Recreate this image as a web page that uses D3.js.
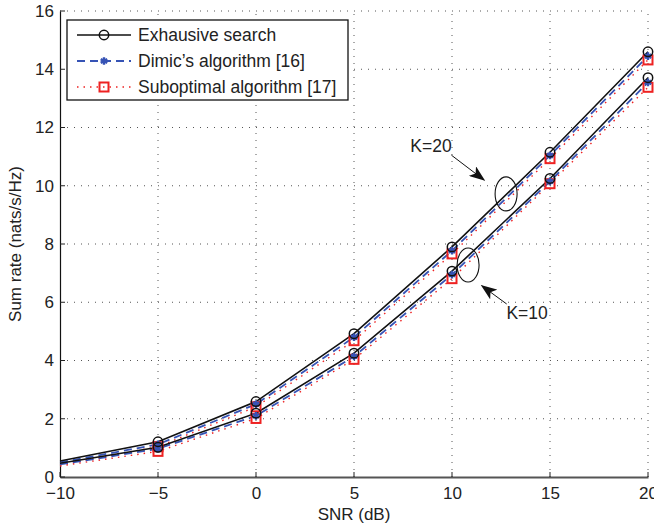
<!DOCTYPE html>
<html>
<head>
<meta charset="utf-8">
<script src="https://cdn.jsdelivr.net/npm/d3@7"></script>
<style>
  html, body { margin: 0; padding: 0; background: #fff; }
  svg { display: block; font-family: "Liberation Sans", Arial, Helvetica, sans-serif; }
</style>
</head>
<body>
<svg id="chart" width="654" height="530"></svg>
<script>
// SNR points (dB)
const snr = [-10, -5, 0, 5, 10, 15, 20];

// Sum rate (nats/s/Hz) for each scheme, K = 20 users and K = 10 users
const exhaustiveK20 = [0.55, 1.21, 2.59, 4.92, 7.90, 11.15, 14.60];
const exhaustiveK10 = [0.47, 1.02, 2.19, 4.25, 7.07, 10.25, 13.71];
const dimicK20      = [0.50, 1.12, 2.50, 4.80, 7.77, 11.04, 14.45];
const dimicK10      = [0.43, 0.97, 2.10, 4.14, 6.95, 10.15, 13.55];
const suboptK20     = [0.42, 1.04, 2.41, 4.68, 7.66, 10.93, 14.32];
const suboptK10     = [0.38, 0.88, 2.01, 4.04, 6.81, 10.07, 13.38];

const xTicks = [-10, -5, 0, 5, 10, 15, 20];
const yTicks = [0, 2, 4, 6, 8, 10, 12, 14, 16];

const legendLabels = ["Exhausive search", "Dimic\u2019s algorithm [16]", "Suboptimal algorithm [17]"];

const svg = d3.select("#chart");
const x = d3.scaleLinear().domain([-10, 20]).range([60, 648]);
const y = d3.scaleLinear().domain([0, 16]).range([477, 11]);

const BLUE = "#3653b5";
const RED = "#ee2222";

// dotted grid
const grid = svg.append("g").attr("stroke", "#555").attr("stroke-width", 1)
  .attr("stroke-dasharray", "1,6");
grid.selectAll("line.v").data(xTicks.slice(1)).join("line")
  .attr("x1", d => x(d)).attr("x2", d => x(d))
  .attr("y1", y(0)).attr("y2", y(16));
grid.selectAll("line.h").data(yTicks.slice(1)).join("line")
  .attr("x1", x(-10)).attr("x2", x(20))
  .attr("y1", d => y(d)).attr("y2", d => y(d));

// axes
const xAxis = d3.axisBottom(x).tickValues(xTicks).tickSize(0).tickPadding(10)
  .tickFormat(d => d < 0 ? "\u2212" + Math.abs(d) : d);
const gx = svg.append("g").attr("transform", `translate(0,${y(0)})`).call(xAxis);
gx.select(".domain").attr("stroke", "#555").attr("stroke-width", 2);
gx.selectAll("text").attr("font-size", 17).attr("fill", "#222")
  .attr("font-family", "Liberation Sans, Arial, sans-serif");

const yAxis = d3.axisLeft(y).tickValues(yTicks).tickSize(0).tickPadding(6);
const gy = svg.append("g").attr("transform", `translate(${x(-10)},0)`).call(yAxis);
gy.select(".domain").attr("stroke", "#111").attr("stroke-width", 1.2);
gy.selectAll("text").attr("font-size", 17).attr("fill", "#222")
  .attr("font-family", "Liberation Sans, Arial, sans-serif");

// inward ticks
svg.append("g").attr("stroke", "#222").attr("stroke-width", 1)
  .selectAll("line").data(yTicks).join("line")
  .attr("x1", x(-10)).attr("x2", x(-10) + 5)
  .attr("y1", d => y(d)).attr("y2", d => y(d));
svg.append("g").attr("stroke", "#222").attr("stroke-width", 1)
  .selectAll("line").data(xTicks).join("line")
  .attr("x1", d => x(d)).attr("x2", d => x(d))
  .attr("y1", y(0)).attr("y2", y(0) - 5);

// axis titles
svg.append("text").attr("x", 354).attr("y", 520).attr("text-anchor", "middle")
  .attr("font-size", 17).attr("fill", "#222").text("SNR (dB)");
svg.append("text").attr("transform", `translate(21,${y(8)}) rotate(-90)`)
  .attr("text-anchor", "middle").attr("font-size", 17).attr("fill", "#222")
  .text("Sum rate (nats/s/Hz)");

const line = d3.line().x((d, i) => x(snr[i])).y(d => y(d));

const series = [
  { vals: suboptK20, kind: "sub" }, { vals: suboptK10, kind: "sub" },
  { vals: dimicK20, kind: "dim" }, { vals: dimicK10, kind: "dim" },
  { vals: exhaustiveK20, kind: "exh" }, { vals: exhaustiveK10, kind: "exh" }
];

const styles = {
  exh: { stroke: "#111", width: 1.6, dash: null },
  dim: { stroke: BLUE, width: 1.8, dash: "8,5" },
  sub: { stroke: RED, width: 1.4, dash: "1.5,5" }
};

const plot = svg.append("g");
series.forEach(s => {
  const st = styles[s.kind];
  plot.append("path").datum(s.vals).attr("d", line)
    .attr("fill", "none").attr("stroke", st.stroke).attr("stroke-width", st.width)
    .attr("stroke-dasharray", st.dash);
});

function drawMarker(g, kind, cx, cy) {
  if (kind === "exh") {
    g.append("circle").attr("cx", cx).attr("cy", cy).attr("r", 4.7)
      .attr("fill", "none").attr("stroke", "#111").attr("stroke-width", 1.5);
  } else if (kind === "dim") {
    g.append("path").attr("transform", `translate(${cx},${cy})`)
      .attr("d", d3.symbol(d3.symbolAsterisk, 40)())
      .attr("fill", "none").attr("stroke", BLUE).attr("stroke-width", 2.4);
  } else {
    g.append("rect").attr("x", cx - 4.5).attr("y", cy - 4.5).attr("width", 9).attr("height", 9)
      .attr("fill", "none").attr("stroke", RED).attr("stroke-width", 2);
  }
}

// markers (none at the left axis edge): red squares, then blue, then black circles on top
["sub", "dim", "exh"].forEach(kind => {
  series.filter(s => s.kind === kind).forEach(s => {
    s.vals.forEach((v, i) => {
      if (snr[i] > -10) drawMarker(plot, kind, x(snr[i]), y(v));
    });
  });
});

// annotations: ellipses around each group of curves with labelled arrows
const annotations = [
  { label: "K=20", ex: 12.76, ey: 9.72, tx: 8.93, ty: 11.38, ax0: 9.97, ay0: 11.05, ax1: 11.65, ay1: 10.19 },
  { label: "K=10", ex: 10.82, ey: 7.28, tx: 13.83, ty: 5.62, ax0: 12.79, ay0: 5.94, ax1: 11.51, ay1: 6.57 }
];
svg.append("defs").append("marker").attr("id", "head")
  .attr("viewBox", "0 0 16 12").attr("refX", 15).attr("refY", 6)
  .attr("markerWidth", 16).attr("markerHeight", 12).attr("markerUnits", "userSpaceOnUse")
  .attr("orient", "auto")
  .append("path").attr("d", "M0,0 L16,6 L0,12 L4,6 Z").attr("fill", "#111");

const ann = svg.append("g");
annotations.forEach(a => {
  ann.append("ellipse").attr("cx", x(a.ex)).attr("cy", y(a.ey)).attr("rx", 11).attr("ry", 17)
    .attr("fill", "none").attr("stroke", "#111").attr("stroke-width", 1.1);
  ann.append("line").attr("x1", x(a.ax0)).attr("y1", y(a.ay0))
    .attr("x2", x(a.ax1)).attr("y2", y(a.ay1))
    .attr("stroke", "#111").attr("stroke-width", 1).attr("marker-end", "url(#head)");
  ann.append("text").attr("x", x(a.tx)).attr("y", y(a.ty) + 6).attr("text-anchor", "middle")
    .attr("font-size", 17.5).attr("fill", "#222").text(a.label);
});

// legend
const lg = svg.append("g");
lg.append("rect").attr("x", 67).attr("y", 20).attr("width", 281).attr("height", 80)
  .attr("fill", "#fff").attr("stroke", "#111").attr("stroke-width", 1.3);
const legendKinds = ["exh", "dim", "sub"];
const rowY = [35, 61, 87];
legendKinds.forEach((kind, i) => {
  const st = styles[kind];
  lg.append("line").attr("x1", 77).attr("x2", 131).attr("y1", rowY[i]).attr("y2", rowY[i])
    .attr("stroke", st.stroke).attr("stroke-width", st.width).attr("stroke-dasharray", st.dash);
  drawMarker(lg, kind, 104, rowY[i]);
  lg.append("text").attr("x", 138).attr("y", rowY[i] + 6).attr("font-size", 17.5)
    .attr("fill", "#222").text(legendLabels[i]);
});
</script>
</body>
</html>
